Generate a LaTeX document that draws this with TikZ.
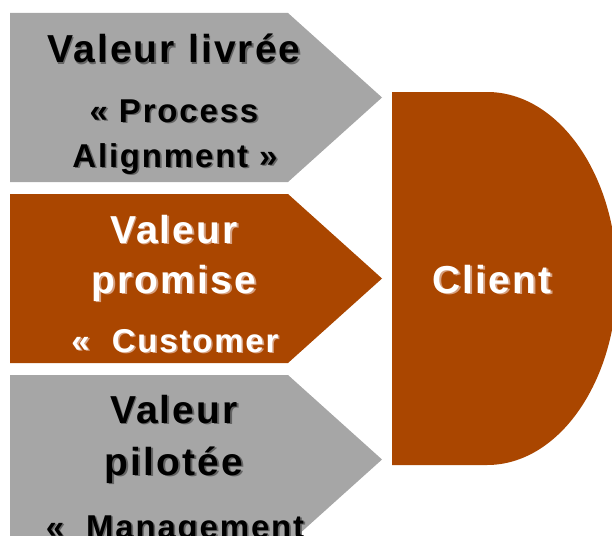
\documentclass[tikz,border=0pt]{standalone}
\usepackage{fontspec}
\setmainfont{Liberation Sans}[LetterSpace=5.5]
\definecolor{rust}{RGB}{170,70,0}
\definecolor{boxgray}{RGB}{166,166,166}
\definecolor{shdark}{RGB}{100,100,100}
\definecolor{shlight}{RGB}{214,160,128}
\newcommand{\shtxt}[2]{\makebox[0pt][l]{\kern1.6pt\raisebox{-1.6pt}{\color{#1}#2}}#2}
\tikzset{
  graybox/.style={fill=boxgray},
  rustbox/.style={fill=rust},
  title/.style={anchor=base, inner sep=0pt, font=\fontsize{39}{39}\selectfont\bfseries},
  subtitle/.style={anchor=base, inner sep=0pt, font=\fontsize{33}{33}\selectfont\bfseries},
  darktxt/.style={text=black},
  lighttxt/.style={text=white}
}
\begin{document}
\begin{tikzpicture}[x=1pt,y=-1pt]
\useasboundingbox (0,0) rectangle (612,535);
\clip (0,0) rectangle (612,535);
% arrows
\fill[graybox] (10,13) -- (288,13) -- (382,97.5) -- (288,182) -- (10,182) -- cycle;
\fill[rustbox] (10,194) -- (288,194) -- (382,278.5) -- (288,363) -- (10,363) -- cycle;
\fill[graybox] (10,375) -- (288,375) -- (382,459.5) -- (288,544) -- (10,544) -- cycle;
% client
\fill[rustbox] (392,92) -- (487,92) arc[start angle=90, end angle=-90, x radius=130pt, y radius=186.5pt] -- (392,465) -- cycle;
% texts box 1
\node[title, darktxt] (l1a) at (174,63) {\shtxt{shdark}{Valeur livrée}};
\node[subtitle, darktxt] (l1b) at (174,122) {\shtxt{shdark}{« Process}};
\node[subtitle, darktxt] (l1c) at (175,167) {\shtxt{shdark}{Alignment »}};
% texts box 2
\node[title, lighttxt] (l2a) at (174,243) {\shtxt{shlight}{Valeur}};
\node[title, lighttxt] (l2b) at (174,293) {\shtxt{shlight}{promise}};
\node[subtitle, lighttxt] (l2c) at (175,352) {\shtxt{shlight}{«\ \ Customer}};
% texts box 3
\node[title, darktxt] (l3a) at (174,423) {\shtxt{shdark}{Valeur}};
\node[title, darktxt] (l3b) at (174,475) {\shtxt{shdark}{pilotée}};
\node[subtitle, darktxt] (l3c) at (175,538) {\shtxt{shdark}{«\ \ Management}};
% client text
\node[title, lighttxt] (client) at (492,293) {\shtxt{shlight}{Client}};
\end{tikzpicture}
\end{document}
